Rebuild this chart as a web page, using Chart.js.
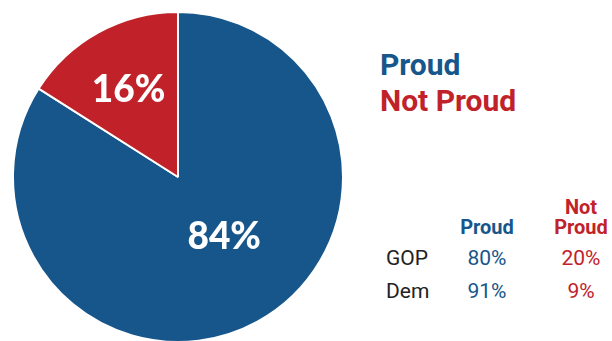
<!DOCTYPE html>
<html>
<head>
<meta charset="utf-8">
<script src="https://cdn.jsdelivr.net/npm/chart.js@4"></script>
<style>
  html, body { margin: 0; padding: 0; background: #fff; }
  body { width: 612px; height: 341px; overflow: hidden; position: relative; font-family: Roboto, "Noto Sans", sans-serif; }
  #pieWrap { position: absolute; left: 12px; top: 11px; width: 332px; height: 332px; }
  .t { position: absolute; white-space: nowrap; line-height: 1; }
  .blue { color: #16568a; }
  .red { color: #c1222a; }
  .big { font-weight: 700; font-size: 30px; left: 380px; }
  .hdr { font-weight: 700; font-size: 20px; text-align: center; width: 80px; line-height: 20px; }
  .cell { font-size: 21px; text-align: center; width: 80px; }
  .row { font-size: 21px; color: #222; left: 386px; }
</style>
</head>
<body>
<div id="pieWrap"><canvas id="pie"></canvas></div>
<div id="side"></div>
<script>
// Overall shares
const categories = ['Proud', 'Not Proud'];
const shares = [84, 16];
const sliceColors = ['#16568a', '#c1222a'];

// Breakdown by party
const parties = ['GOP', 'Dem'];
const partyProud = [80, 91];
const partyNotProud = [20, 9];

// Label placement inside each slice, as fractions of the radius from the centre
const labelOffsets = [[0.28, 0.36], [-0.30, -0.53]];

const sliceLabels = {
  id: 'sliceLabels',
  afterDatasetsDraw(chart) {
    const ctx = chart.ctx;
    const meta = chart.getDatasetMeta(0);
    ctx.save();
    ctx.fillStyle = '#fff';
    ctx.font = '900 37px Lato, "Open Sans", sans-serif';
    ctx.textAlign = 'center';
    ctx.textBaseline = 'middle';
    meta.data.forEach((arc, i) => {
      const r = arc.outerRadius;
      const [fx, fy] = labelOffsets[i];
      ctx.fillText(shares[i] + '%', arc.x + fx * r, arc.y + fy * r + 1);
    });
    ctx.restore();
  }
};

new Chart(document.getElementById('pie'), {
  type: 'pie',
  data: {
    labels: categories,
    datasets: [{
      data: shares,
      backgroundColor: sliceColors,
      borderColor: '#fff',
      borderWidth: 2
    }]
  },
  options: {
    responsive: true,
    maintainAspectRatio: false,
    animation: false,
    layout: { padding: 0 },
    plugins: { legend: { display: false }, tooltip: { enabled: false } }
  },
  plugins: [sliceLabels]
});

// Legend and party table
const side = document.getElementById('side');
function addText(cls, text, left, top) {
  const d = document.createElement('div');
  d.className = 't ' + cls;
  d.innerHTML = text;
  if (left !== null) d.style.left = left + 'px';
  d.style.top = top + 'px';
  side.appendChild(d);
}
addText('big blue', categories[0], null, 50);
addText('big red', categories[1], null, 86);

const colProud = 447, colNot = 541;
addText('hdr blue', categories[0], colProud, 217);
addText('hdr red', 'Not<br>Proud', colNot, 197);

const rowTops = [248, 281];
parties.forEach((p, i) => {
  addText('row', p, 386, rowTops[i]);
  addText('cell blue', partyProud[i] + '%', colProud, rowTops[i]);
  addText('cell red', partyNotProud[i] + '%', colNot, rowTops[i]);
});
</script>
</body>
</html>
